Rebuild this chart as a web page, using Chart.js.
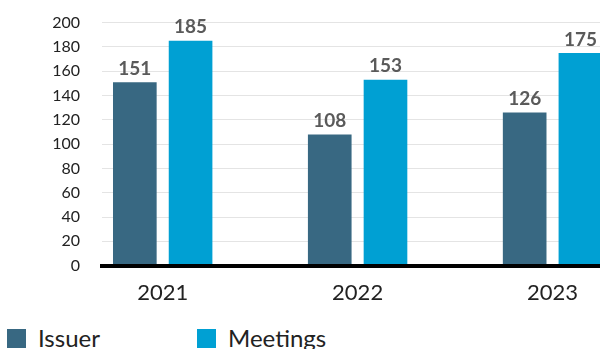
<!DOCTYPE html>
<html>
<head>
<meta charset="utf-8">
<script src="https://cdn.jsdelivr.net/npm/chart.js@4"></script>
<style>
  body { margin: 0; background: #fff; overflow: hidden; width: 600px; height: 349px; position: relative; }
  #wrap { position: absolute; left: 0; top: -9px; width: 650px; height: 329px; }
  #legend { position: absolute; left: 7px; top: 323px; display: flex; font-family: Lato, sans-serif; font-size: 24px; color: #222; }
  #legend .item { display: flex; align-items: flex-start; width: 190px; }
  #legend .box { width: 19px; height: 19px; margin-top: 6px; margin-right: 12px; }
</style>
</head>
<body>
<div id="wrap"><canvas id="myChart"></canvas></div>
<div id="legend"></div>
<script>
// years and counts per year
const years = [2021, 2022, 2023];
const issuer = [151, 108, 126];
const meetings = [185, 153, 175];
const yTicks = [0, 20, 40, 60, 80, 100, 120, 140, 160, 180, 200];

const issuerColor = '#386882';
const meetingsColor = '#00a0d3';

// value labels above each bar
const valueLabels = {
  id: 'valueLabels',
  afterDatasetsDraw(chart) {
    const ctx = chart.ctx;
    ctx.save();
    ctx.font = 'bold 19px Lato, sans-serif';
    ctx.fillStyle = '#5a5a5a';
    ctx.textAlign = 'center';
    ctx.textBaseline = 'bottom';
    chart.data.datasets.forEach((ds, i) => {
      chart.getDatasetMeta(i).data.forEach((bar, j) => {
        ctx.fillText(ds.data[j].y, bar.x, bar.y - 4);
      });
    });
    ctx.restore();
  },
};

// populate the html legend
const populateLegend = (chart) => {
  let legendEl = document.querySelector('#legend');
  legendEl.innerHTML = '';
  chart.data.datasets.forEach((ds) => {
    let item = document.createElement('div');
    item.className = 'item';
    item.innerHTML = `<span class="box" style="background:${ds.backgroundColor}"></span><span>${ds.label}</span>`;
    legendEl.appendChild(item);
  });
};

let ctx = document.getElementById('myChart').getContext('2d');

const chart = new Chart(ctx, {
  type: 'bar',
  data: {
    datasets: [
      {
        label: 'Issuer',
        backgroundColor: issuerColor,
        data: years.map((x, i) => ({ x, y: issuer[i] })),
      },
      {
        label: 'Meetings',
        backgroundColor: meetingsColor,
        data: years.map((x, i) => ({ x, y: meetings[i] })),
      },
    ],
  },
  options: {
    responsive: true,
    maintainAspectRatio: false,
    animation: false,
    categoryPercentage: 0.572,
    barPercentage: 0.783,
    layout: { padding: { top: 13, left: 48, right: 0, bottom: 0 } },
    plugins: {
      legend: { display: false },
      tooltip: { enabled: false },
    },
    scales: {
      x: {
        type: 'linear',
        offset: false,
        min: 2020.6886,
        max: 2023.5,
        grid: { display: false, drawTicks: false },
        border: { display: true, color: '#000', width: 4, z: 1 },
        afterBuildTicks: (scale) => {
          scale.ticks = years.map((value) => ({ value }));
        },
        ticks: {
          padding: 14,
          color: '#222',
          font: { family: 'Lato', size: 22 },
          callback: (v) => String(v),
        },
      },
      y: {
        min: 0,
        max: 200,
        afterBuildTicks: (scale) => {
          scale.ticks = yTicks.map((value) => ({ value }));
        },
        afterFit: (scale) => {
          scale.width = 54;
        },
        grid: { color: '#e4e4e4', lineWidth: 1, drawTicks: false },
        border: { display: false },
        ticks: {
          padding: 22,
          color: '#222',
          font: { family: 'Lato', size: 16 },
        },
      },
    },
  },
  plugins: [valueLabels],
});

populateLegend(chart);
</script>
</body>
</html>
